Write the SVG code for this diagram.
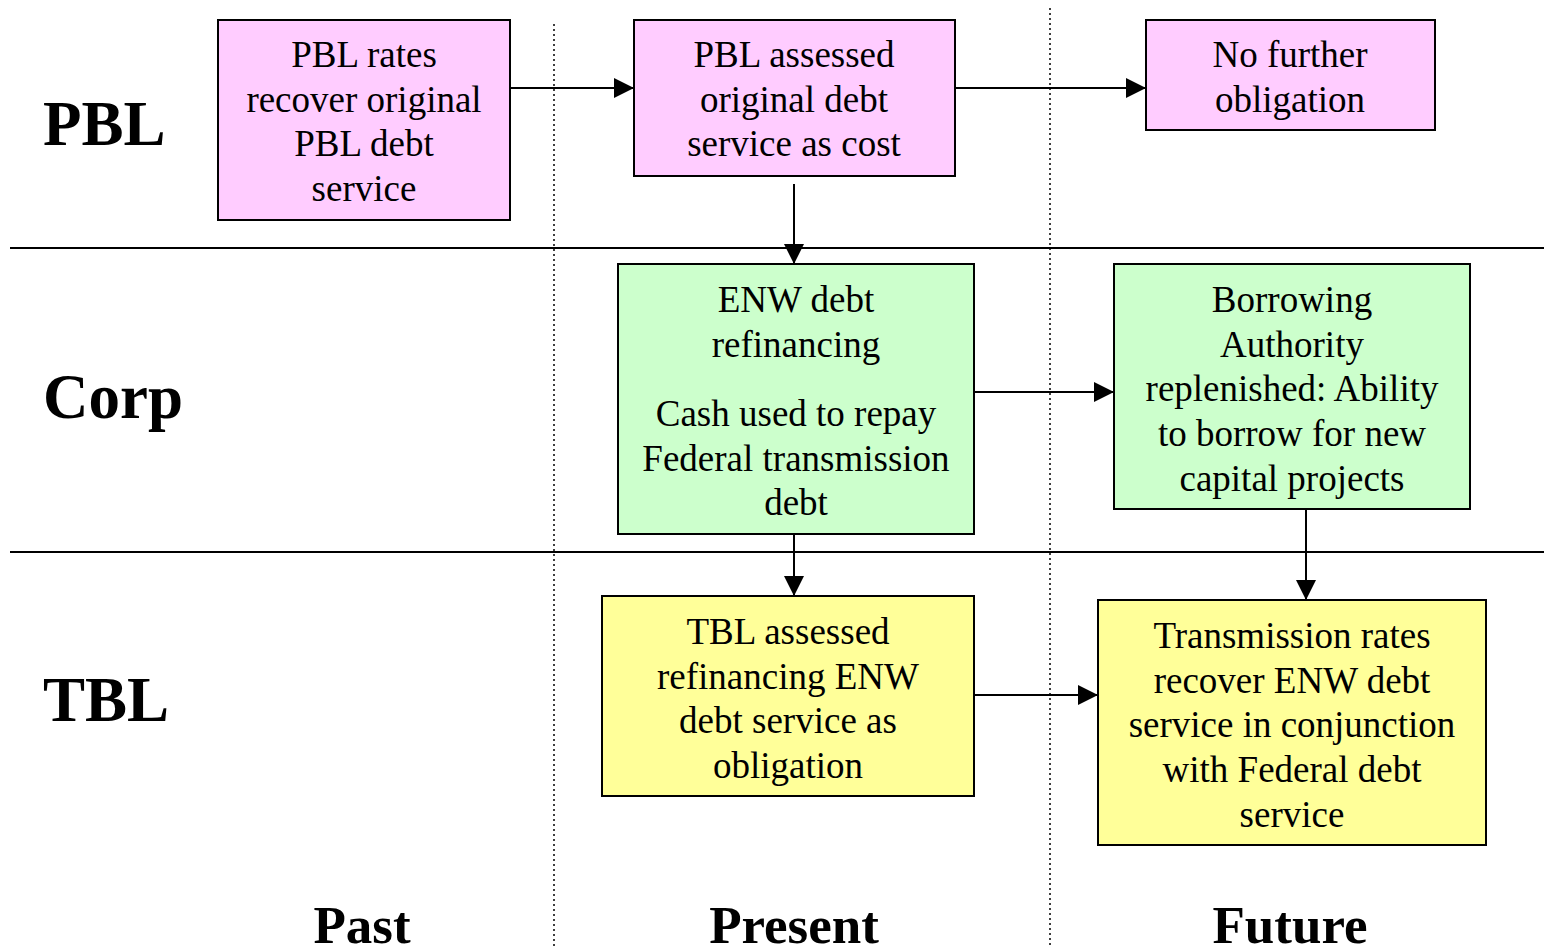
<svg xmlns="http://www.w3.org/2000/svg" width="1544" height="948" viewBox="0 0 1544 948">
  <style>
    .box { stroke: #000; stroke-width: 2; }
    .pbl { fill: #FFCCFF; }
    .corp { fill: #CCFFCC; }
    .tbl { fill: #FFFF99; }
    .t { font-family: "Liberation Serif", "Times New Roman", serif; font-size: 37px; fill: #000; text-anchor: middle; }
    .lane { font-family: "Liberation Serif", "Times New Roman", serif; font-size: 63px; font-weight: bold; fill: #000; }
    .era { font-family: "Liberation Serif", "Times New Roman", serif; font-size: 53px; font-weight: bold; fill: #000; text-anchor: middle; }
    .rule { stroke: #000; stroke-width: 2; }
    .divider { stroke: #000; stroke-width: 1.5; stroke-dasharray: 2 3; }
    .conn { stroke: #000; stroke-width: 2; fill: none; marker-end: url(#arrow); }
  </style>
  <defs>
    <marker id="arrow" markerUnits="userSpaceOnUse" markerWidth="20" markerHeight="20" refX="20" refY="10" orient="auto">
      <path d="M0,0 L20,10 L0,20 Z" fill="#000"/>
    </marker>
  </defs>
  <rect width="1544" height="948" fill="#fff"/>

  <!-- swimlane grid -->
  <g id="grid">
    <line class="divider" x1="554" y1="24" x2="554" y2="948"/>
    <line class="divider" x1="1050" y1="8" x2="1050" y2="948"/>
    <line class="rule" x1="10" y1="248" x2="1544" y2="248"/>
    <line class="rule" x1="10" y1="552" x2="1544" y2="552"/>
  </g>

  <!-- lane and period labels -->
  <g id="labels">
    <text class="lane" x="43" y="145">PBL</text>
    <text class="lane" x="43" y="418">Corp</text>
    <text class="lane" x="43" y="721">TBL</text>
    <text class="era" x="362" y="943">Past</text>
    <text class="era" x="794" y="943">Present</text>
    <text class="era" x="1290" y="943">Future</text>
  </g>

  <!-- connectors -->
  <g id="connectors">
    <line class="conn" x1="507" y1="88" x2="634" y2="88"/>
    <line class="conn" x1="955" y1="88" x2="1146" y2="88"/>
    <line class="conn" x1="794" y1="184" x2="794" y2="264"/>
    <line class="conn" x1="794" y1="534" x2="794" y2="596"/>
    <line class="conn" x1="970" y1="392" x2="1114" y2="392"/>
    <line class="conn" x1="1306" y1="505" x2="1306" y2="600"/>
    <line class="conn" x1="970" y1="695" x2="1098" y2="695"/>
  </g>

  <g id="pbl-past">
    <rect class="box pbl" x="218" y="20" width="292" height="200"/>
    <text class="t" x="364" y="67">PBL rates</text>
    <text class="t" x="364" y="112">recover original</text>
    <text class="t" x="364" y="156">PBL debt</text>
    <text class="t" x="364" y="201">service</text>
  </g>

  <g id="pbl-present">
    <rect class="box pbl" x="634" y="20" width="321" height="156"/>
    <text class="t" x="794" y="67">PBL assessed</text>
    <text class="t" x="794" y="112">original debt</text>
    <text class="t" x="794" y="156">service as cost</text>
  </g>

  <g id="pbl-future">
    <rect class="box pbl" x="1146" y="20" width="289" height="110"/>
    <text class="t" x="1290" y="67">No further</text>
    <text class="t" x="1290" y="112">obligation</text>
  </g>

  <g id="corp-present">
    <rect class="box corp" x="618" y="264" width="356" height="270"/>
    <text class="t" x="796" y="312">ENW debt</text>
    <text class="t" x="796" y="357">refinancing</text>
    <text class="t" x="796" y="426">Cash used to repay</text>
    <text class="t" x="796" y="471">Federal transmission</text>
    <text class="t" x="796" y="515">debt</text>
  </g>

  <g id="corp-future">
    <rect class="box corp" x="1114" y="264" width="356" height="245"/>
    <text class="t" x="1292" y="312">Borrowing</text>
    <text class="t" x="1292" y="357">Authority</text>
    <text class="t" x="1292" y="401">replenished: Ability</text>
    <text class="t" x="1292" y="446">to borrow for new</text>
    <text class="t" x="1292" y="491">capital projects</text>
  </g>

  <g id="tbl-present">
    <rect class="box tbl" x="602" y="596" width="372" height="200"/>
    <text class="t" x="788" y="644">TBL assessed</text>
    <text class="t" x="788" y="689">refinancing ENW</text>
    <text class="t" x="788" y="733">debt service as</text>
    <text class="t" x="788" y="778">obligation</text>
  </g>

  <g id="tbl-future">
    <rect class="box tbl" x="1098" y="600" width="388" height="245"/>
    <text class="t" x="1292" y="648">Transmission rates</text>
    <text class="t" x="1292" y="693">recover ENW debt</text>
    <text class="t" x="1292" y="737">service in conjunction</text>
    <text class="t" x="1292" y="782">with Federal debt</text>
    <text class="t" x="1292" y="827">service</text>
  </g>
</svg>
